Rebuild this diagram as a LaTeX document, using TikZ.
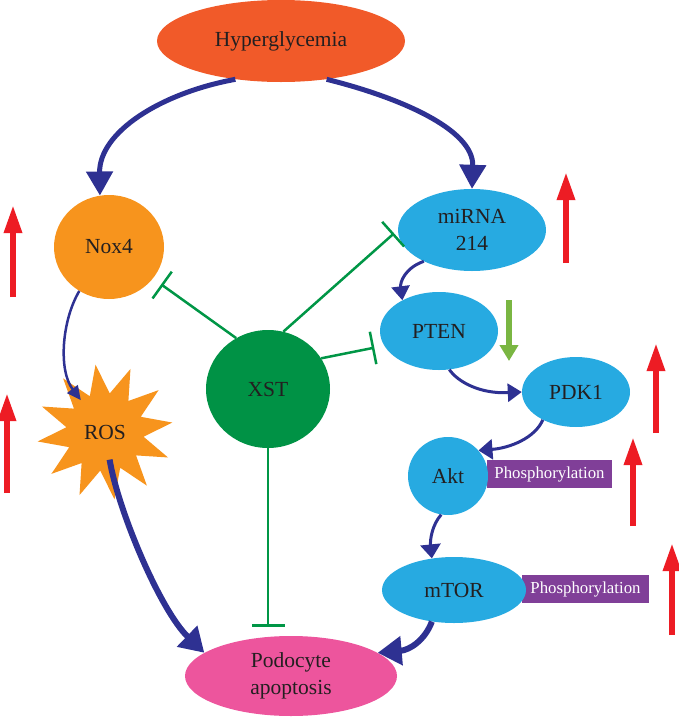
\documentclass[tikz,border=0pt]{standalone}
\usepackage{fontspec}
\setmainfont{Liberation Serif}
\usetikzlibrary{arrows.meta,shapes.geometric}
\definecolor{hypred}{RGB}{241,90,41}
\definecolor{noxorange}{RGB}{247,148,29}
\definecolor{cellblue}{RGB}{39,170,225}
\definecolor{xstgreen}{RGB}{0,146,69}
\definecolor{inhgreen}{RGB}{0,150,70}
\definecolor{apopink}{RGB}{237,85,157}
\definecolor{pathblue}{RGB}{46,49,146}
\definecolor{upred}{RGB}{237,28,36}
\definecolor{downgreen}{RGB}{122,182,66}
\definecolor{phospurple}{RGB}{128,63,152}
\definecolor{txtdark}{RGB}{35,31,32}

\begin{document}
\begin{tikzpicture}[x=1pt,y=-1pt,
  blob/.style={ellipse, inner sep=0pt, text=txtdark, align=center,
    font=\fontsize{21.5}{27}\selectfont},
  phos/.style={rectangle, fill=phospurple, text=white, inner sep=0pt,
    minimum height=28pt, font=\fontsize{16.8}{20}\selectfont},
  act/.style={draw=pathblue, line width=#1},
  inh/.style={draw=inhgreen, line width=2.5pt, -{Bar[width=33pt]}},
  upmark/.style={draw=upred, line width=6pt, -{Triangle[length=28pt,width=17pt]}},
  downmark/.style={draw=downgreen, line width=6pt, -{Triangle[length=16pt,width=18pt]}}]
\useasboundingbox (0,0) rectangle (679,718);
% phosphorylation labels
\node[phos, minimum width=125pt] (phos1) at (549.5,474) {Phosphorylation};
\node[phos, minimum width=127pt] (phos2) at (585.5,589) {Phosphorylation};
% cells of the pathway
\node[blob, fill=hypred, minimum width=248pt, minimum height=82pt] (hyper) at (281,41) {Hyperglycemia};
\node[blob, fill=noxorange, minimum width=110pt, minimum height=104pt] (nox) at (109,247) {Nox4};
\node[star, star points=12, star point ratio=1.75, shape border rotate=8,
  fill=noxorange, minimum size=136pt, inner sep=0pt, text=txtdark,
  font=\fontsize{21.5}{27}\selectfont] (ros) at (105,432) {ROS};
\node[blob, fill=cellblue, minimum width=148pt, minimum height=82pt] (mirna) at (472,230) {miRNA\\214};
\node[blob, fill=cellblue, minimum width=118pt, minimum height=78pt] (pten) at (439,331) {PTEN};
\node[blob, fill=cellblue, minimum width=108pt, minimum height=70pt] (pdk) at (576,392) {PDK1};
\node[blob, fill=cellblue, minimum width=80pt, minimum height=78pt] (akt) at (448,476) {Akt};
\node[blob, fill=cellblue, minimum width=144pt, minimum height=66pt] (mtor) at (454,590) {mTOR};
\node[blob, fill=xstgreen, minimum width=124pt, minimum height=118pt] (xst) at (268,389) {XST};
\node[blob, fill=apopink, minimum width=212pt, minimum height=80pt] (podo) at (291,676) {Podocyte\\apoptosis};
% activation
\draw[act=5pt, -{Triangle[length=24pt,width=26pt]}] (hyper.220) .. controls (161,93) and (99,132) .. (nox.100);
\draw[act=5pt, -{Triangle[length=24pt,width=26pt]}] (hyper.320) .. controls (398,97) and (474,129) .. (mirna.north);
\draw[act=2.5pt, -{Triangle[length=14pt,width=13pt]}, shorten >=40pt] (nox.236) .. controls (62,320) and (58,370) .. (ros.center);
\draw[act=3pt, -{Triangle[length=14pt,width=18pt]}] (mirna.213) .. controls (405,268) and (400,282) .. (pten.140);
\draw[act=3pt, -{Triangle[length=14pt,width=18pt]}] (pten.285) .. controls (458,382) and (480,394) .. (pdk.west);
\draw[act=3pt, -{Triangle[length=14pt,width=20pt]}] (pdk.220) .. controls (535,438) and (510,448) .. (akt.40);
\draw[act=3pt, -{Triangle[length=14pt,width=20pt]}] (akt.260) .. controls (432,525) and (430,540) .. (mtor.125);
\draw[act=6pt, -{Triangle[length=24pt,width=28pt]}, shorten <=28pt] (ros.center) .. controls (118,510) and (160,610) .. (podo.165);
\draw[act=6pt, -{Triangle[length=24pt,width=28pt]}] (mtor.235) .. controls (425,640) and (410,650) .. (podo.15);
% inhibition by XST
\draw[inh, shorten >=10pt] (xst.122) -- (nox);
\draw[inh, shorten >=5pt] (xst.75) -- (mirna.west);
\draw[inh, shorten >=10pt] (xst.30) -- (pten.195);
\draw[inh, shorten >=9pt] (xst.south) -- (xst.south |- podo.north);
% up and down marks
\draw[upmark] (13,297) -- (13,205);
\draw[upmark] (7,493) -- (7,393);
\draw[upmark] (566,263) -- (566,172);
\draw[upmark] (656,433) -- (656,343);
\draw[upmark] (633,526) -- (633,437);
\draw[upmark] (672,635) -- (672,543);
\draw[downmark] (509,300) -- (509,361);
\end{tikzpicture}
\end{document}
